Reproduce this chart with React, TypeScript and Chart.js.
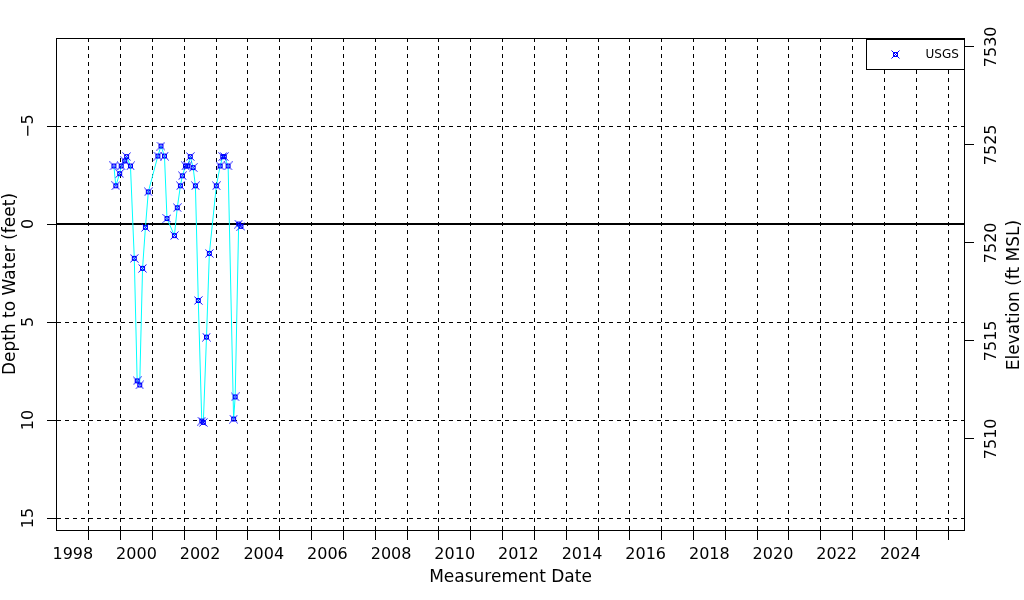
import React, { useEffect, useRef } from "react";
import { Chart, registerables } from "chart.js";

Chart.register(...registerables);

// ---- data ----
const measurementDates = [
  "1999-04-16", "1999-05-08", "1999-06-21", "1999-07-09", "1999-08-18", "1999-09-09",
  "1999-10-23", "1999-12-06", "2000-01-08", "2000-02-06", "2000-03-10", "2000-04-12",
  "2000-05-15", "2000-09-02", "2000-10-08", "2000-11-17", "2000-12-16", "2001-03-11",
  "2001-04-13", "2001-05-19", "2001-06-10", "2001-07-16", "2001-08-11", "2001-09-09",
  "2001-10-12", "2001-11-07", "2001-12-10", "2002-01-19", "2002-02-06", "2002-03-14",
  "2002-04-16", "2002-07-05", "2002-08-18", "2002-09-16", "2002-10-04", "2002-11-17",
  "2003-01-19", "2003-02-06", "2003-03-18", "2003-04-13",
];
const depthToWater = [
  -2.96, -1.95, -2.57, -2.96, -3.22, -3.44,
  -2.96, 1.75, 8.0, 8.21, 2.26, 0.17,
  -1.64, -3.47, -3.98, -3.47, -0.28, 0.59,
  -0.83, -1.95, -2.46, -2.96, -2.96, -3.44,
  -2.88, -1.95, 3.9, 10.05, 10.12, 5.77,
  1.5, -1.95, -2.96, -3.44, -3.44, -2.96,
  9.95, 8.82, 0.0, 0.12,
];
const seriesLabel = "USGS";
const referenceDepth = 0;

const depthTicks = [-5, 0, 5, 10, 15];
const elevationTicks = [7510, 7515, 7520, 7525, 7530];
const gridYears = [
  1998, 1999, 2000, 2001, 2002, 2003, 2004, 2005, 2006, 2007, 2008, 2009, 2010, 2011,
  2012, 2013, 2014, 2015, 2016, 2017, 2018, 2019, 2020, 2021, 2022, 2023, 2024, 2025,
];
const yearLabels = [
  1998, 2000, 2002, 2004, 2006, 2008, 2010, 2012, 2014, 2016, 2018, 2020, 2022, 2024,
];

const xMin = 1997.5;
const xMax = 2026.0;
const depthMin = -9.49;
const depthMax = 15.61;
const elevMin = 7505.35;
const elevMax = 7530.45;

const FONT = "'DejaVu Sans', sans-serif";

function decimalYear(s: string): number {
  const [y, m, d] = s.split("-").map(Number);
  const start = Date.UTC(y, 0, 1);
  const end = Date.UTC(y + 1, 0, 1);
  return y + (Date.UTC(y, m - 1, d) - start) / (end - start);
}

function makeMarker(): HTMLCanvasElement {
  const c = document.createElement("canvas");
  c.width = 9;
  c.height = 9;
  const g = c.getContext("2d")!;
  g.strokeStyle = "#0000ff";
  g.lineWidth = 1;
  g.beginPath();
  g.moveTo(0.5, 0.5);
  g.lineTo(8.5, 8.5);
  g.moveTo(8.5, 0.5);
  g.lineTo(0.5, 8.5);
  g.stroke();
  g.strokeRect(2.5, 2.5, 4, 4);
  return c;
}

export default function App() {
  const ref = useRef<HTMLCanvasElement | null>(null);

  useEffect(() => {
    if (!ref.current) return;
    const marker = makeMarker();

    const points = measurementDates.map((d, i) => ({ x: decimalYear(d), y: depthToWater[i] }));

    const framePlugin = {
      id: "frameAndExtras",
      afterDraw(chart: any) {
        const { ctx, chartArea } = chart;
        const l = Math.round(chartArea.left) - 0.5;
        const t = Math.round(chartArea.top) + 0.5;
        const r = Math.round(chartArea.right) + 0.5;
        const b = Math.round(chartArea.bottom) + 0.5;
        ctx.save();
        ctx.strokeStyle = "#000";
        ctx.lineWidth = 1;
        ctx.strokeRect(l, t, r - l, b - t);

        // legend box
        const bw = 98;
        const bh = 30;
        ctx.fillStyle = "#fff";
        ctx.fillRect(r - bw, t + 1, bw, bh);
        ctx.strokeRect(r - bw, t + 1, bw, bh);
        ctx.drawImage(marker, r - bw + 29 - 4.5, t + 1 + bh / 2 - 4.5);
        ctx.fillStyle = "#000";
        ctx.font = "12px " + FONT;
        ctx.textAlign = "left";
        ctx.textBaseline = "middle";
        ctx.fillText(seriesLabel, r - bw + 59, t + 1 + bh / 2);

        // right axis title, reading bottom to top
        ctx.font = "17px " + FONT;
        ctx.textAlign = "center";
        ctx.textBaseline = "middle";
        ctx.translate(1015, 295);
        ctx.rotate(-Math.PI / 2);
        ctx.fillText("Elevation (ft MSL)", 0, 0);
        ctx.restore();
      },
    };

    const chart = new Chart(ref.current, {
      type: "line",
      data: {
        datasets: [
          {
            label: seriesLabel,
            data: points,
            borderColor: "#00ffff",
            borderWidth: 1,
            pointStyle: marker as any,
            pointRadius: 4,
            pointHoverRadius: 4,
            tension: 0,
            fill: false,
            order: 1,
            xAxisID: "x",
            yAxisID: "y",
          },
          {
            label: "reference",
            data: [
              { x: xMin, y: referenceDepth },
              { x: xMax, y: referenceDepth },
            ],
            borderColor: "#000",
            borderWidth: 2,
            pointRadius: 0,
            fill: false,
            order: 2,
            xAxisID: "x",
            yAxisID: "y",
          },
        ],
      },
      options: {
        animation: false,
        responsive: false,
        maintainAspectRatio: false,
        events: [],
        layout: { padding: { top: 38, left: 0, right: 0, bottom: 0 } },
        plugins: {
          legend: { display: false },
          tooltip: { enabled: false },
        },
        scales: {
          x: {
            type: "linear",
            position: "bottom",
            min: xMin,
            max: xMax,
            afterBuildTicks: (scale: any) => {
              scale.ticks = gridYears.map((v) => ({ value: v + 0.5 }));
            },
            afterFit: (scale: any) => {
              scale.height = 70;
            },
            ticks: {
              autoSkip: false,
              maxRotation: 0,
              minRotation: 0,
              labelOffset: -16,
              padding: 5,
              color: "#000",
              font: { family: FONT, size: 16 },
              callback: (v: any) => {
                const yr = Number(v) - 0.5;
                return yearLabels.includes(yr) ? String(yr) : "";
              },
            },
            grid: {
              color: "#000",
              lineWidth: 1,
              tickLength: 10,
              tickColor: "#000",
              drawTicks: true,
            },
            border: { display: false, dash: [4, 4] },
            title: {
              display: true,
              text: "Measurement Date",
              color: "#000",
              font: { family: FONT, size: 17 },
              padding: { top: 0, bottom: 12 },
            },
          },
          y: {
            type: "linear",
            position: "left",
            reverse: true,
            min: depthMin,
            max: depthMax,
            afterBuildTicks: (scale: any) => {
              scale.ticks = depthTicks.map((v) => ({ value: v }));
            },
            afterFit: (scale: any) => {
              scale.width = 57;
            },
            ticks: {
              minRotation: 90,
              maxRotation: 90,
              crossAlign: "center",
              padding: 6,
              color: "#000",
              font: { family: FONT, size: 16 },
              callback: (v: any) => (Number(v) < 0 ? "\u2212" + Math.abs(Number(v)) : String(v)),
            },
            grid: {
              color: "#000",
              lineWidth: 1,
              tickLength: 10,
              tickColor: "#000",
              drawTicks: true,
            },
            border: { display: false, dash: [4, 4] },
            title: {
              display: true,
              text: "Depth to Water (feet)",
              color: "#000",
              font: { family: FONT, size: 17 },
              padding: { top: 0, bottom: 0 },
            },
          },
          y2: {
            type: "linear",
            position: "right",
            min: elevMin,
            max: elevMax,
            afterBuildTicks: (scale: any) => {
              scale.ticks = elevationTicks.map((v) => ({ value: v }));
            },
            afterFit: (scale: any) => {
              scale.width = 60;
            },
            ticks: {
              minRotation: 90,
              maxRotation: 90,
              crossAlign: "center",
              padding: -3,
              color: "#000",
              font: { family: FONT, size: 16 },
              callback: (v: any) => String(v),
            },
            grid: {
              drawOnChartArea: false,
              color: "#000",
              tickLength: 10,
              tickColor: "#000",
              drawTicks: true,
            },
            border: { display: false },
          },
        },
      } as any,
      plugins: [framePlugin],
    });

    return () => chart.destroy();
  }, []);

  return (
    <div style={{ position: "absolute", left: 0, top: 0, width: 1024, height: 600, background: "#fff" }}>
      <canvas ref={ref} width={1024} height={600} style={{ display: "block", width: 1024, height: 600 }} />
    </div>
  );
}
